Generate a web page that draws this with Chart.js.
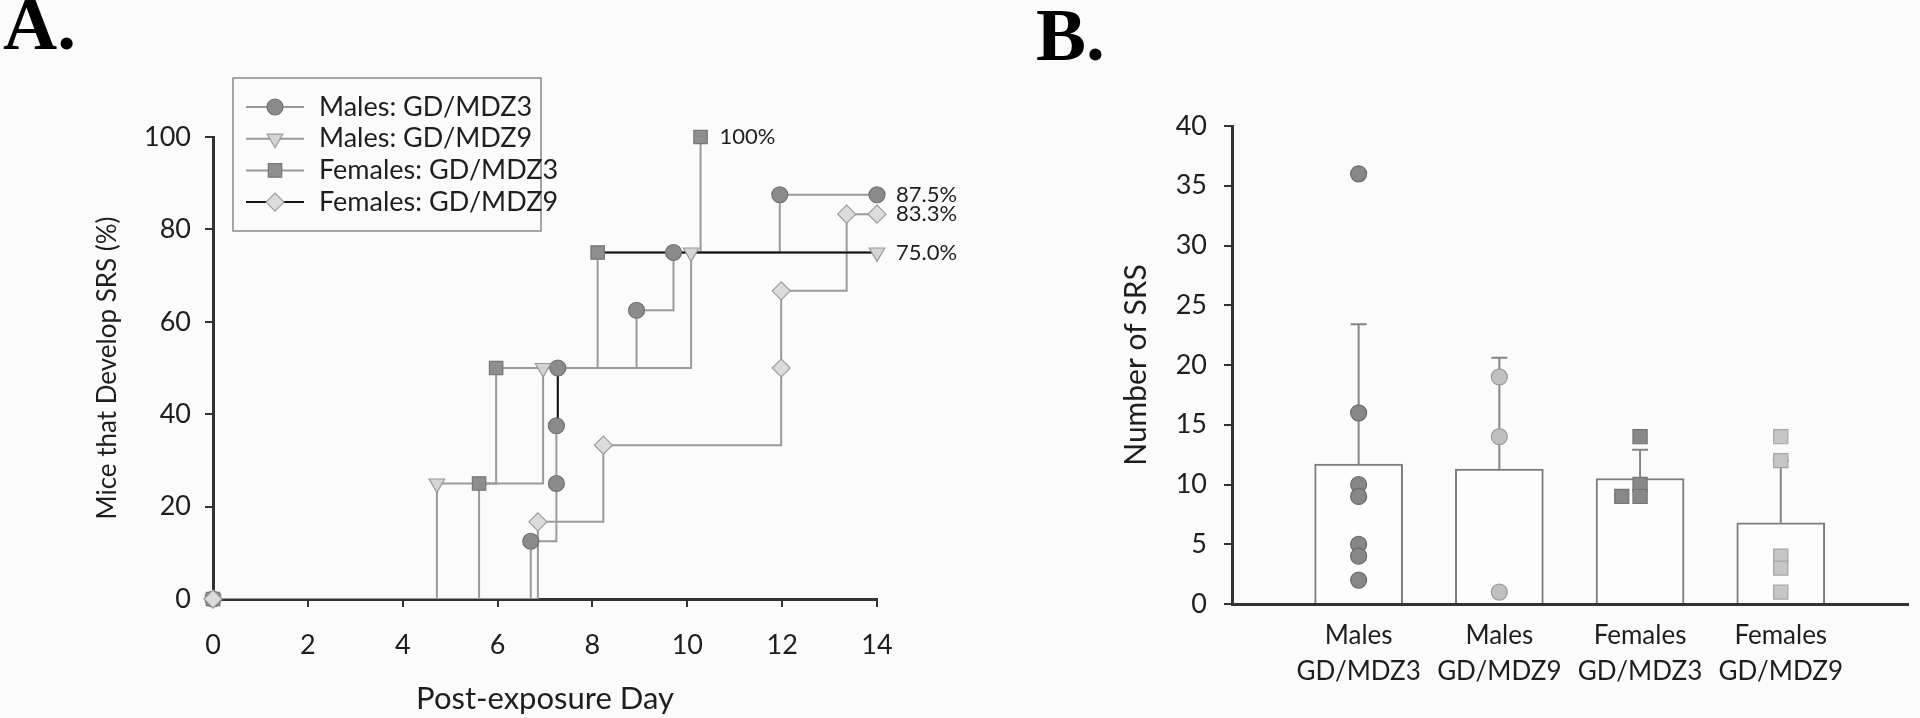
<!DOCTYPE html>
<html>
<head>
<meta charset="utf-8">
<title>SRS onset and number of SRS</title>
<script src="https://cdn.jsdelivr.net/npm/chart.js@4.4.1/dist/chart.umd.min.js"></script>
<style>
  html, body { margin: 0; padding: 0; background: #fbfbfb; }
  #wrap { position: relative; width: 1920px; height: 718px; }
  canvas { position: absolute; top: 0; }
  #panelA { left: 0; }
  #panelB { left: 960px; }
</style>
</head>
<body>
<div id="wrap">
  <canvas id="panelA" width="960" height="718"></canvas>
  <canvas id="panelB" width="960" height="718"></canvas>
</div>
<script>
// ---- panel A: cumulative % of mice with SRS by post-exposure day ----
const maleMdz3Days = [0, 6.70, 7.24, 7.24, 7.27, 8.93, 9.71, 11.95, 14];
const maleMdz3Pct = [0, 12.5, 25, 37.5, 50, 62.5, 75, 87.5, 87.5];
const maleMdz9Days = [0, 4.72, 6.96, 10.08, 14];
const maleMdz9Pct = [0, 25, 50, 75, 75];
const femaleMdz3Days = [0, 5.61, 5.97, 8.11, 10.28];
const femaleMdz3Pct = [0, 25, 50, 75, 100];
const femaleMdz9Days = [0, 6.85, 8.23, 11.98, 11.98, 13.36, 14];
const femaleMdz9Pct = [0, 16.7, 33.3, 50, 66.7, 83.3, 83.3];
const endLabels = ['87.5%', '75.0%', '100%', '83.3%'];

// pieces of the curves that the original draws in black
const darkSegments = [
  [femaleMdz3Days[3], femaleMdz3Pct[3], maleMdz9Days[4], maleMdz9Pct[4]],
  [maleMdz3Days[4], maleMdz3Pct[3], maleMdz3Days[4], maleMdz3Pct[4]],
];

// ---- panel B: number of SRS per group ----
const groupLabels = [['Males', 'GD/MDZ3'], ['Males', 'GD/MDZ9'], ['Females', 'GD/MDZ3'], ['Females', 'GD/MDZ9']];
const groupMeans = [11.7, 11.3, 10.5, 6.8];
const groupErrTop = [23.4, 20.6, 12.9, 12.0];
const maleMdz3Srs = [36, 16, 10, 9, 5, 4, 2];
const maleMdz9Srs = [19, 14, 1];
const femaleMdz3Srs = [14, 10, 9, 9];
const femaleMdz3Jitter = [0, 0, 0, -0.13];
const femaleMdz9Srs = [14, 12, 4, 3, 1];

Chart.defaults.font.family = 'Lato';
Chart.defaults.color = '#1e1e1e';
Chart.defaults.animation = false;
Chart.defaults.plugins.tooltip.enabled = false;
Chart.defaults.plugins.legend.display = false;

const axisColor = '#333';
const lineGrey = '#9a9a9a';
const toPoints = (xs, ys) => xs.map((x, i) => ({ x, y: ys[i] }));

const kmSeries = [
  { label: 'Males: GD/MDZ3', days: maleMdz3Days, pct: maleMdz3Pct, style: 'circle', rot: 0, r: 8, fill: '#8b8b8b', edge: '#707070', legendLine: lineGrey },
  { label: 'Males: GD/MDZ9', days: maleMdz9Days, pct: maleMdz9Pct, style: 'triangle', rot: 180, r: 9, fill: '#d4d4d4', edge: '#999', legendLine: lineGrey },
  { label: 'Females: GD/MDZ3', days: femaleMdz3Days, pct: femaleMdz3Pct, style: 'rect', rot: 0, r: 9.5, fill: '#8e8e8e', edge: '#777', legendLine: lineGrey },
  { label: 'Females: GD/MDZ9', days: femaleMdz9Days, pct: femaleMdz9Pct, style: 'rectRot', rot: 0, r: 9, fill: '#dcdcdc', edge: '#9d9d9d', legendLine: '#151515' },
];

const stepSets = kmSeries.map(s => ({
  type: 'line',
  data: toPoints(s.days, s.pct),
  stepped: 'before',
  borderColor: lineGrey,
  borderWidth: 2,
  pointRadius: 0,
  fill: false,
  order: 5,
}));

const darkSet = {
  type: 'line',
  data: darkSegments.flatMap(([x0, y0, x1, y1]) => [{ x: x0, y: y0 }, { x: x1, y: y1 }, { x: x1, y: null }]),
  borderColor: '#151515',
  borderWidth: 2,
  pointRadius: 0,
  spanGaps: false,
  order: 4,
};

const markerSets = kmSeries.map((s, i) => ({
  type: 'line',
  label: s.label,
  data: toPoints(s.days, s.pct),
  showLine: false,
  pointStyle: s.style,
  pointRotation: s.rot,
  pointRadius: s.r,
  pointBackgroundColor: s.fill,
  pointBorderColor: s.edge,
  pointBorderWidth: 1.2,
  clip: false,
  order: 2 - i * 0.1,
  legendLine: s.legendLine,
  endLabel: endLabels[i],
}));

// legend in a box, line - marker - line like the original
const boxLegend = {
  id: 'boxLegend',
  afterDraw(chart, args, opts) {
    if (!opts.show) return;
    const ctx = chart.ctx;
    ctx.save();
    ctx.strokeStyle = '#8a8a8a';
    ctx.lineWidth = 1.5;
    ctx.strokeRect(opts.left, opts.top, opts.width, opts.height);
    let row = 0;
    chart.data.datasets.forEach(ds => {
      if (!ds.legendLine) return;
      const y = opts.firstRow + row * opts.rowGap;
      const cx = (opts.lineX0 + opts.lineX1) / 2;
      ctx.strokeStyle = ds.legendLine;
      ctx.lineWidth = 2;
      ctx.beginPath();
      ctx.moveTo(opts.lineX0, y);
      ctx.lineTo(opts.lineX1, y);
      ctx.stroke();
      ctx.fillStyle = ds.pointBackgroundColor;
      ctx.strokeStyle = ds.pointBorderColor;
      ctx.lineWidth = ds.pointBorderWidth;
      Chart.helpers.drawPoint(ctx, { pointStyle: ds.pointStyle, rotation: ds.pointRotation, radius: ds.pointRadius, borderWidth: ds.pointBorderWidth }, cx, y);
      ctx.fillStyle = '#1e1e1e';
      ctx.font = opts.font;
      ctx.textBaseline = 'middle';
      ctx.textAlign = 'left';
      ctx.fillText(ds.label, opts.textX, y);
      row++;
    });
    ctx.restore();
  },
};

// final percentage written beside each curve's last point
const endText = {
  id: 'endText',
  afterDatasetsDraw(chart, args, opts) {
    if (!opts.show) return;
    const ctx = chart.ctx;
    ctx.save();
    ctx.font = opts.font;
    ctx.fillStyle = '#1e1e1e';
    ctx.textBaseline = 'middle';
    ctx.textAlign = 'left';
    chart.data.datasets.forEach((ds, i) => {
      if (!ds.endLabel) return;
      const pts = chart.getDatasetMeta(i).data;
      const last = pts[pts.length - 1];
      ctx.fillText(ds.endLabel, last.x + opts.gap, last.y);
    });
    ctx.restore();
  },
};

const tickGrid = { drawOnChartArea: false, drawTicks: true, tickLength: 8, color: axisColor, lineWidth: 2 };
const axisBorder = { color: axisColor, width: 3 };

new Chart(document.getElementById('panelA'), {
  type: 'line',
  data: { datasets: [...markerSets, darkSet, ...stepSets] },
  options: {
    responsive: false,
    devicePixelRatio: 1,
    layout: { padding: { left: 3, right: 83, top: 0, bottom: 0 } },
    plugins: {
      title: {
        display: true, text: 'A.', align: 'start', color: '#000',
        font: { family: 'Liberation Serif', size: 75, weight: 'bold', lineHeight: 0.7 },
        padding: { top: 3, bottom: 81.5 },
      },
      boxLegend: { show: true, left: 233, top: 78, width: 308, height: 153, firstRow: 107, rowGap: 31.7, lineX0: 246, lineX1: 304, textX: 319, font: '27px Lato' },
      endText: { show: true, gap: 19, font: '22px Lato' },
    },
    scales: {
      x: {
        type: 'linear', min: 0, max: 14,
        ticks: { stepSize: 2, padding: 22, font: { size: 27 } },
        grid: tickGrid,
        border: axisBorder,
        title: { display: true, text: 'Post-exposure Day', font: { size: 31 }, padding: { top: 0, bottom: 0 } },
        afterFit: s => { s.height = 119; },
      },
      y: {
        type: 'linear', min: 0, max: 100,
        ticks: { stepSize: 20, padding: 14, font: { size: 27 } },
        grid: tickGrid,
        border: axisBorder,
        title: { display: true, text: 'Mice that Develop SRS (%)', font: { size: 26 }, padding: { top: 89, bottom: 0 } },
        afterFit: s => { s.width = 210; },
      },
    },
  },
  plugins: [boxLegend, endText],
});

// ---- panel B datasets ----
const barSet = {
  type: 'bar',
  data: groupMeans.map((m, i) => ({ x: i + 1, y: m })),
  backgroundColor: '#fdfdfd',
  borderColor: '#7c7c7c',
  borderWidth: 2,
  barThickness: 88,
  order: 3,
};

const errSet = {
  type: 'line',
  data: groupMeans.flatMap((m, i) => [{ x: i + 1, y: m }, { x: i + 1, y: groupErrTop[i] }, { x: i + 1, y: null }]),
  borderColor: '#858585',
  borderWidth: 2,
  spanGaps: false,
  pointStyle: 'line',
  pointRadius: ctx => (ctx.dataIndex % 3 === 1 ? 8 : 0),
  pointBorderColor: '#858585',
  pointBorderWidth: 2,
  order: 2,
};

const dotGroups = [
  { vals: maleMdz3Srs, style: 'circle', r: 8, fill: '#878787', edge: '#6a6a6a' },
  { vals: maleMdz9Srs, style: 'circle', r: 8, fill: '#c0c0c0', edge: '#999' },
  { vals: femaleMdz3Srs, jitter: femaleMdz3Jitter, style: 'rect', r: 10, fill: '#888', edge: '#747474' },
  { vals: femaleMdz9Srs, style: 'rect', r: 10, fill: '#c6c6c6', edge: '#a5a5a5' },
];

const dotSets = dotGroups.map((g, i) => ({
  type: 'line',
  data: g.vals.map((v, k) => ({ x: i + 1 + (g.jitter ? g.jitter[k] : 0), y: v })),
  showLine: false,
  pointStyle: g.style,
  pointRadius: g.r,
  pointBackgroundColor: g.fill,
  pointBorderColor: g.edge,
  pointBorderWidth: 1.2,
  clip: false,
  order: 1,
}));

new Chart(document.getElementById('panelB'), {
  type: 'bar',
  data: { datasets: [...dotSets, errSet, barSet] },
  options: {
    responsive: false,
    devicePixelRatio: 1,
    layout: { padding: { left: 76, right: 2, top: 0, bottom: 0 } },
    plugins: {
      title: {
        display: true, text: 'B.', align: 'start', color: '#000',
        font: { family: 'Liberation Serif', size: 75, weight: 'bold', lineHeight: 0.7 },
        padding: { top: 14.5, bottom: 59 },
      },
    },
    scales: {
      x: {
        type: 'linear', min: 0.1, max: 4.91, offset: false,
        afterBuildTicks: s => { s.ticks = groupLabels.map((_, i) => ({ value: i + 1 })); },
        ticks: {
          autoSkip: false, maxRotation: 0, padding: 13.5,
          font: { size: 26, lineHeight: 1.385 },
          callback: v => groupLabels[Math.round(v) - 1] || '',
        },
        grid: { display: false, drawTicks: false },
        border: axisBorder,
        afterFit: s => { s.height = 114; },
      },
      y: {
        type: 'linear', min: 0, max: 40,
        ticks: { stepSize: 5, padding: 17, font: { size: 27 } },
        grid: tickGrid,
        border: axisBorder,
        title: { display: true, text: 'Number of SRS', font: { size: 30 }, padding: { top: 82, bottom: 0 } },
        afterFit: s => { s.width = 196; },
      },
    },
  },
});
</script>
</body>
</html>
